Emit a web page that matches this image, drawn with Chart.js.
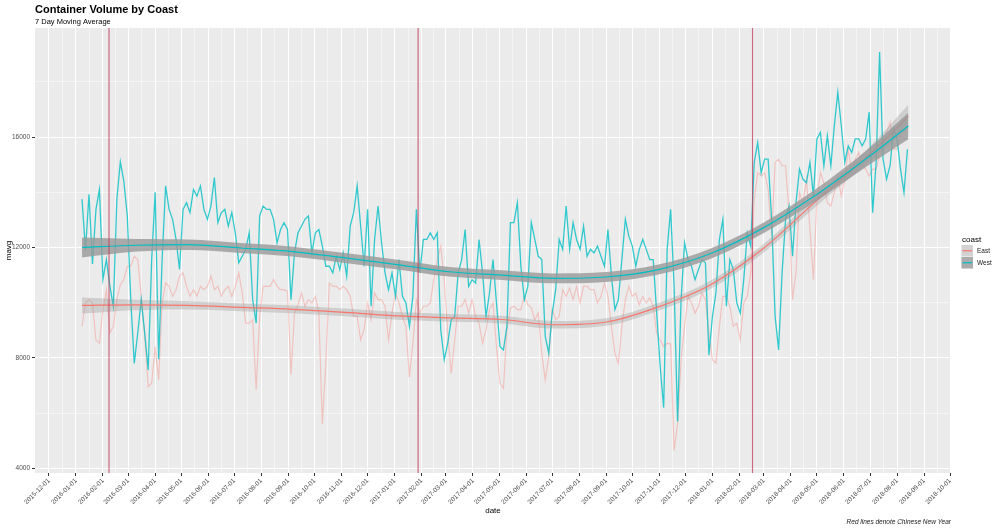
<!DOCTYPE html>
<html>
<head>
<meta charset="utf-8">
<script src="https://cdn.jsdelivr.net/npm/chart.js@4.4.0/dist/chart.umd.min.js"></script>
<style>
  html, body { margin: 0; padding: 0; background: #fff; }
</style>
</head>
<body>
<canvas id="chart" width="1000" height="530"></canvas>
<script>
// --- data ---
// daily 7 day moving average, sampled every 4 days from seriesStart
const seriesStart = '2016-01-08';
const stepDays = 4;

const westValues = [
  13750, 11900, 13930, 11400, 13380, 14100, 10840, 11560, 10600, 9870,
  13740, 15100, 14400, 13140, 10110, 7800, 8900, 10110, 8900, 7560,
  11560, 14000, 7950, 11560, 14230, 13380, 13020, 12290, 11200, 13380,
  13620, 13260, 14100, 13860, 14230, 13380, 13020, 13500, 14530, 12900,
  13260, 13380, 12770, 13260, 12530, 11440, 11680, 11930, 12530, 10110,
  9260, 13140, 13500, 13380, 13380, 13020, 12170, 12650, 12900, 12650,
  10110, 11800, 12530, 12770, 13020, 13140, 11800, 12530, 12650, 12050,
  11320, 11320, 11080, 11680, 11200, 11800, 10960, 12770, 13260, 14230,
  12770, 11320, 13380, 9870, 12290, 13500, 12170, 11080, 10470, 11080,
  10230, 11560, 10230, 9990, 9140, 10230, 13380, 11080, 12290, 12290,
  12530, 12290, 12530, 9020, 7930, 8530, 9380, 9500, 11080, 11560,
  12650, 10590, 10830, 10710, 12290, 11080, 9500, 10350, 11560, 9990,
  8410, 8290, 9140, 12900, 12900, 13620, 11320, 10110, 10590, 12900,
  12290, 11680, 11560, 8780, 8170, 9620, 10470, 12290, 11930, 13500,
  11930, 12900, 12290, 11930, 12770, 11680, 11930, 11800, 12050, 11680,
  11320, 12650, 10960, 9750, 10110, 11560, 13020, 12410, 12050, 11320,
  11930, 12290, 11930, 11560, 11560, 9620, 7690, 6200, 11930, 13380,
  10590, 5700, 10110, 12170, 11560, 11320, 10830, 11200, 11560, 11440,
  8100, 9500, 10350, 12290, 13020, 9870, 11560, 11200, 9990, 9620,
  10840, 12530, 12050, 15080, 15800, 14710, 15200, 15200, 13020, 9500,
  8290, 11080, 13020, 13500, 11680, 13620, 14840, 14470, 14350, 15080,
  13870, 15930, 16170, 14960, 16050, 14960, 16410, 17620, 16410, 15080,
  15680, 15440, 15930, 15930, 15680, 15930, 16900, 13260, 15080, 19080,
  15200, 14470, 14960, 16290, 15930, 14840, 13990, 15560
];

const eastValues = [
  9140, 9990, 10110, 9990, 8650, 8530, 9750, 10470, 8900, 9140,
  10110, 10650, 10840, 11320, 11320, 11680, 11560, 10230, 8780, 6960,
  7080, 8410, 7200, 9990, 10710, 10590, 10230, 10470, 10960, 11080,
  10590, 10230, 10470, 10230, 10590, 10470, 10590, 10960, 10470, 10590,
  10230, 10470, 10590, 10230, 10590, 11080, 10350, 9260, 9260, 9380,
  6850, 9500, 10590, 10590, 10590, 10840, 10590, 10470, 10470, 10410,
  7400, 9620, 9920, 10350, 9870, 10110, 9990, 10230, 9620, 5600,
  7800, 10710, 10590, 10590, 10470, 10590, 10470, 10230, 9500, 9500,
  8650, 9020, 9990, 9380, 10350, 10110, 10110, 9870, 8650, 9620,
  10350, 9990, 9500, 9140, 7300, 8530, 10110, 9620, 9870, 9870,
  9990, 10840, 11560, 12050, 10840, 8900, 7440, 8650, 9870, 9870,
  10110, 9620, 10110, 9500, 9260, 8530, 9020, 9750, 9990, 8410,
  7080, 6900, 9020, 9810, 9870, 9750, 9750, 10230, 9930, 9810,
  9380, 9620, 8170, 7200, 8050, 9750, 9380, 9500, 10470, 10230,
  10530, 10110, 10590, 9990, 10590, 10590, 10470, 10470, 9990, 10230,
  10710, 10230, 9140, 8170, 7800, 9140, 10110, 10590, 10230, 10350,
  9930, 10230, 9990, 10170, 9870, 8900, 8650, 8410, 8530, 8500,
  4650, 5600, 7930, 9140, 10230, 9990, 9620, 9870, 10350, 10110,
  8900, 7930, 7810, 9140, 10230, 10230, 9870, 9140, 9260, 8650,
  9990, 10230, 11080, 13740, 14710, 14590, 14710, 14110, 12410, 15080,
  15200, 14960, 14960, 13260, 10110, 11080, 13990, 13620, 14470, 12650,
  10840, 13740, 14710, 14350, 13620, 13500, 13990, 14590, 13870, 14470,
  15560, 14710, 15200, 15440, 14960, 14840, 14590, 14840, 14840, 15320,
  15560, 16170, 16530, 15560, 15560, 16050, 15930, 15930
];

// loess smooth and its confidence half-width
const smoothDates = [
  '2016-01-08', '2016-03-10', '2016-05-09', '2016-07-08', '2016-09-06',
  '2016-11-05', '2017-01-04', '2017-03-05', '2017-05-04', '2017-07-03',
  '2017-09-01', '2017-10-31', '2017-12-30', '2018-02-28', '2018-04-29',
  '2018-06-28', '2018-08-14'
];
const westSmooth = [12000, 12080, 12100, 11980, 11850, 11620, 11380, 11120, 11000, 10880, 10930, 11200, 11780, 12700, 13880, 15250, 16400];
const westSe     = [360, 230, 190, 180, 180, 180, 175, 175, 175, 180, 180, 180, 185, 190, 220, 300, 480];
const eastSmooth = [9900, 9920, 9900, 9830, 9760, 9650, 9520, 9450, 9390, 9200, 9300, 9850, 10650, 11950, 13650, 15300, 16750];
const eastSe     = [290, 190, 150, 140, 140, 140, 140, 140, 140, 140, 140, 140, 150, 160, 190, 260, 420];

// Chinese New Year markers
const cnyDates = ['2016-02-08', '2017-01-28', '2018-02-16'];

// axis breaks
const yMajor = [4000, 8000, 12000, 16000];
const yMinor = [6000, 10000, 14000, 18000];
const firstMonth = '2015-12-01';
const monthCount = 35; // 2015-12 .. 2018-10

// --- helpers ---
const BASE = Date.UTC(2015, 11, 1);
function dayOf(s) {
  const [y, m, d] = s.split('-').map(Number);
  return (Date.UTC(y, m - 1, d) - BASE) / 86400000;
}
function labelOf(day) {
  return new Date(BASE + day * 86400000).toISOString().slice(0, 10);
}

const startDay = dayOf(seriesStart);
const westPoints = westValues.map((v, i) => ({ x: startDay + i * stepDays, y: v }));
const eastPoints = eastValues.map((v, i) => ({ x: startDay + i * stepDays, y: v }));
const smoothDays = smoothDates.map(dayOf);
const band = (vals, se, sign) => vals.map((v, i) => ({ x: smoothDays[i], y: v + sign * se[i] }));

// month starts (major) and the mid points between them (minor)
const monthDays = [];
{
  const [fy, fm] = firstMonth.split('-').map(Number);
  for (let i = 0; i < monthCount; i++) {
    const y = fy + Math.floor((fm - 1 + i) / 12);
    const m = (fm - 1 + i) % 12;
    monthDays.push((Date.UTC(y, m, 1) - BASE) / 86400000);
  }
}
const xTicks = [];
monthDays.forEach((d, i) => {
  xTicks.push({ value: d, major: true });
  if (i < monthDays.length - 1) xTicks.push({ value: (d + monthDays[i + 1]) / 2, major: false });
});
const majorX = new Set(monthDays);

const FONT = '"Liberation Sans", Arial, sans-serif';
const smoothOpts = { pointRadius: 0, cubicInterpolationMode: 'monotone', borderWidth: 0, fill: false };

// panel background, red lines, titles, legend
const decorations = {
  id: 'decorations',
  beforeDraw(chart) {
    const { ctx, chartArea: a } = chart;
    ctx.save();
    ctx.fillStyle = '#EBEBEB';
    ctx.fillRect(a.left, a.top, a.right - a.left, a.bottom - a.top);
    ctx.restore();
  },
  afterDatasetsDraw(chart) {
    const { ctx, chartArea: a, scales } = chart;
    ctx.save();
    ctx.strokeStyle = 'rgba(190, 60, 90, 0.75)';
    ctx.lineWidth = 1.2;
    cnyDates.forEach(s => {
      const x = scales.x.getPixelForValue(dayOf(s));
      ctx.beginPath();
      ctx.moveTo(x, a.top);
      ctx.lineTo(x, a.bottom);
      ctx.stroke();
    });
    ctx.restore();
  },
  afterDraw(chart) {
    const { ctx, chartArea: a } = chart;
    ctx.save();
    ctx.fillStyle = '#000';
    ctx.textAlign = 'left';
    ctx.font = 'bold 11px ' + FONT;
    ctx.fillText('Container Volume by Coast', 35, 13);
    ctx.font = '7.5px ' + FONT;
    ctx.fillText('7 Day Moving Average', 35, 24);

    ctx.textAlign = 'right';
    ctx.font = 'italic 6.5px ' + FONT;
    ctx.fillStyle = '#1A1A1A';
    ctx.fillText('Red lines denote Chinese New Year', a.right, 524);

    // legend
    ctx.textAlign = 'left';
    ctx.fillStyle = '#000';
    ctx.font = '8px ' + FONT;
    ctx.fillText('coast', 962, 242);
    const keys = [
      { label: 'East', line: '#F8766D', fill: 'rgba(153,153,153,0.35)' },
      { label: 'West', line: '#00BFC4', fill: 'rgba(153,153,153,0.8)' }
    ];
    keys.forEach((k, i) => {
      const top = 245 + i * 12;
      ctx.fillStyle = '#F2F2F2';
      ctx.fillRect(961.5, top, 11.5, 11.5);
      ctx.fillStyle = k.fill;
      ctx.fillRect(961.5, top, 11.5, 11.5);
      ctx.strokeStyle = k.line;
      ctx.lineWidth = 1.2;
      ctx.beginPath();
      ctx.moveTo(962.5, top + 5.75);
      ctx.lineTo(972, top + 5.75);
      ctx.stroke();
      ctx.fillStyle = '#1A1A1A';
      ctx.font = '6.5px ' + FONT;
      ctx.fillText(k.label, 977, top + 8.3);
    });
    ctx.restore();
  }
};

new Chart(document.getElementById('chart').getContext('2d'), {
  type: 'line',
  data: {
    datasets: [
      { label: 'East', data: eastPoints, borderColor: 'rgba(248,118,109,0.35)', borderWidth: 1.2, pointRadius: 0, tension: 0, order: 60 },
      { label: 'West', data: westPoints, borderColor: 'rgba(0,191,196,0.8)', borderWidth: 1.3, pointRadius: 0, tension: 0, order: 50 },
      { data: band(eastSmooth, eastSe, -1), ...smoothOpts, order: 40 },
      { data: band(eastSmooth, eastSe, 1), ...smoothOpts, fill: '-1', backgroundColor: 'rgba(153,153,153,0.35)', order: 40 },
      { data: eastSmooth.map((v, i) => ({ x: smoothDays[i], y: v })), ...smoothOpts, borderWidth: 1.2, borderColor: '#F8766D', order: 35 },
      { data: band(westSmooth, westSe, -1), ...smoothOpts, order: 30 },
      { data: band(westSmooth, westSe, 1), ...smoothOpts, fill: '-1', backgroundColor: 'rgba(153,153,153,0.8)', order: 30 },
      { data: westSmooth.map((v, i) => ({ x: smoothDays[i], y: v })), ...smoothOpts, borderWidth: 1.2, borderColor: '#00BFC4', order: 25 }
    ]
  },
  options: {
    responsive: false,
    animation: false,
    layout: { padding: { top: 28, right: 49, left: 0, bottom: 0 } },
    plugins: {
      legend: { display: false },
      tooltip: { enabled: false },
      title: { display: false }
    },
    scales: {
      x: {
        type: 'linear',
        min: -16,
        max: 1036,
        afterBuildTicks: scale => { scale.ticks = xTicks.map(t => ({ value: t.value })); },
        afterFit: scale => { scale.height = 57; },
        ticks: {
          autoSkip: false,
          maxRotation: 45,
          minRotation: 45,
          padding: 1,
          color: '#4D4D4D',
          font: { family: FONT, size: 6.5 },
          callback: value => majorX.has(value) ? labelOf(value) : ''
        },
        grid: {
          color: '#FFFFFF',
          lineWidth: c => (c.tick && majorX.has(c.tick.value)) ? 1 : 0.5,
          tickLength: 3,
          tickColor: c => (c.tick && majorX.has(c.tick.value)) ? '#333333' : 'rgba(0,0,0,0)'
        },
        border: { display: false },
        title: {
          display: true,
          text: 'date',
          color: '#000',
          font: { family: FONT, size: 8 },
          padding: { top: 0, bottom: 14 }
        }
      },
      y: {
        type: 'linear',
        min: 3830,
        max: 19950,
        afterBuildTicks: scale => {
          scale.ticks = yMajor.concat(yMinor).sort((a, b) => a - b).map(v => ({ value: v }));
        },
        afterFit: scale => { scale.width = 35; },
        ticks: {
          padding: 2,
          color: '#4D4D4D',
          font: { family: FONT, size: 6.5 },
          callback: value => yMajor.includes(value) ? String(value) : ''
        },
        grid: {
          color: '#FFFFFF',
          lineWidth: c => (c.tick && yMajor.includes(c.tick.value)) ? 1 : 0.5,
          tickLength: 3,
          tickColor: c => (c.tick && yMajor.includes(c.tick.value)) ? '#333333' : 'rgba(0,0,0,0)'
        },
        border: { display: false },
        title: {
          display: true,
          text: 'mavg',
          color: '#000',
          font: { family: FONT, size: 8 },
          padding: { top: 4, bottom: 2 }
        }
      }
    }
  },
  plugins: [decorations]
});
</script>
</body>
</html>
